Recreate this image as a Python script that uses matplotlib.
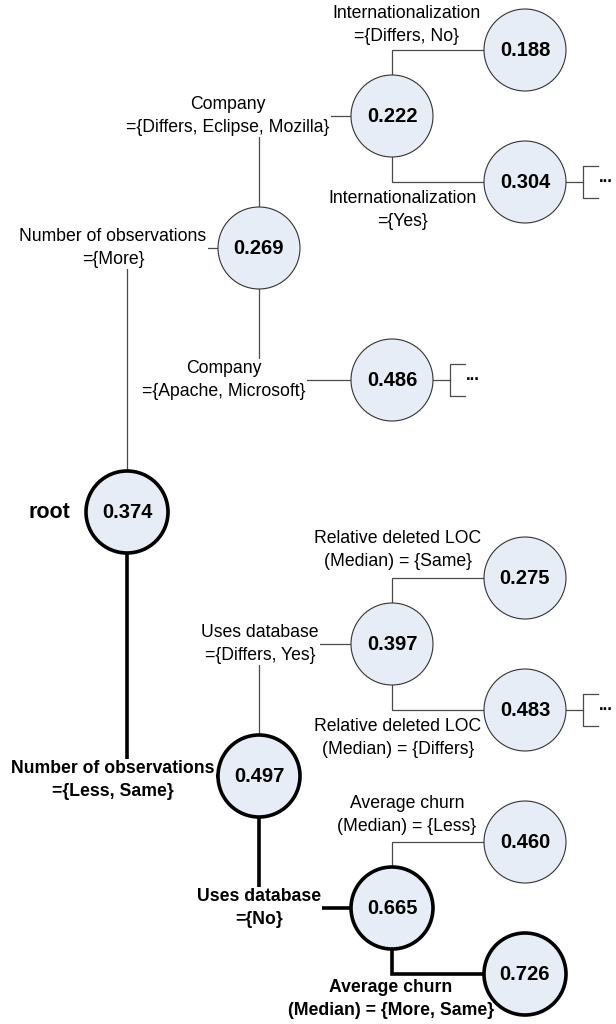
import matplotlib
matplotlib.use("Agg")
import matplotlib.pyplot as plt
from matplotlib.patches import Circle

##````````````````````````````````````````````````````````````````````````````##
# tree data

# node values (index 0 is the root)
node_values = ["0.374", "0.269", "0.497", "0.222", "0.486", "0.188", "0.304",
               "0.397", "0.665", "0.275", "0.483", "0.460", "0.726"]

# parent of every node (-1 for root)
node_parent = [-1, 0, 0, 1, 1, 3, 3, 2, 2, 7, 7, 8, 8]

# split condition on the edge leading into each node
edge_labels = [
    "",
    "Number of observations\n={More}",
    "Number of observations\n={Less, Same}",
    "Company\n={Differs, Eclipse, Mozilla}",
    "Company\n={Apache, Microsoft}",
    "Internationalization\n={Differs, No}",
    "Internationalization\n={Yes}",
    "Uses database\n={Differs, Yes}",
    "Uses database\n={No}",
    "Relative deleted LOC\n(Median) = {Same}",
    "Relative deleted LOC\n(Median) = {Differs}",
    "Average churn\n(Median) = {Less}",
    "Average churn\n(Median) = {More, Same}",
]

# nodes on the highlighted path
path_nodes = [0, 2, 8, 12]

# nodes that continue further (drawn with "...")
truncated = [6, 4, 10]

##````````````````````````````````````````````````````````````````````````````##
# layout (pixel grid)

col_x = [127, 259, 392, 525]
node_col = [0, 1, 1, 2, 2, 3, 3, 2, 2, 3, 3, 3, 3]
node_row = [7, 3, 11, 1, 5, 0, 2, 9, 13, 8, 10, 12, 14]
row0, row_step = 50, 66
radius = 41

# label centre x and y offset relative to the elbow corner
label_x = [0, 113, 113, 228, 224, 407, 403, 260, 259, 398, 398, 407, 391]
label_dy = [0, 0, 4, 0, 0, -25, 28, 0, 0, -28, 28, -27, 25]

fill = "#e7edf7"
thin_col = "#4a4a4a"

fig = plt.figure(figsize=(6.16, 10.24), dpi=100)
ax = fig.add_axes([0, 0, 1, 1])
ax.set_xlim(0, 616)
ax.set_ylim(1024, 0)
ax.axis("off")

plt.rcParams['font.family'] = ['Liberation Sans', 'DejaVu Sans']

def pos(i):
    return col_x[node_col[i]], row0 + row_step * node_row[i]

# edges: vertical from parent, then horizontal into child
for i, p in enumerate(node_parent):
    if p < 0:
        continue
    px, py = pos(p)
    cx, cy = pos(i)
    bold = (i in path_nodes and p in path_nodes)
    sy = py - radius if cy < py else py + radius
    ax.plot([px, px, cx - radius], [sy, cy, cy],
            color="black" if bold else thin_col,
            lw=2.6 if bold else 0.9, zorder=1, solid_joinstyle="miter")
    ax.text(label_x[i], cy + label_dy[i], edge_labels[i],
            ha="center", va="center", fontsize=12.7,
            fontweight="bold" if bold else "normal", linespacing=1.4,
            bbox=dict(facecolor="white", edgecolor="none", pad=1.0),
            zorder=2)

# nodes
for i, v in enumerate(node_values):
    x, y = pos(i)
    bold = i in path_nodes
    ax.add_patch(Circle((x, y), radius, facecolor=fill,
                        edgecolor="black" if bold else "#333333",
                        lw=2.6 if bold else 0.8, zorder=3))
    ax.text(x, y, v, ha="center", va="center", fontsize=14.5,
            fontweight="bold", zorder=4)

# "..." brackets for subtrees not shown
for i in truncated:
    x, y = pos(i)
    bx = x + radius + 17
    ax.plot([x + radius, bx], [y, y], color=thin_col, lw=0.9, zorder=1)
    ax.plot([bx + 15, bx, bx, bx + 15], [y - 16, y - 16, y + 16, y + 16],
            color=thin_col, lw=0.9, zorder=1)
    ax.text(bx + 16, y - 4, "...", ha="left", va="center",
            fontsize=12, fontweight="bold", zorder=4)

# root label
rx, ry = pos(0)
ax.text(49, ry, "root", ha="center", va="center", fontsize=15.5,
        fontweight="bold")

fig.savefig("out.png", dpi=100)
